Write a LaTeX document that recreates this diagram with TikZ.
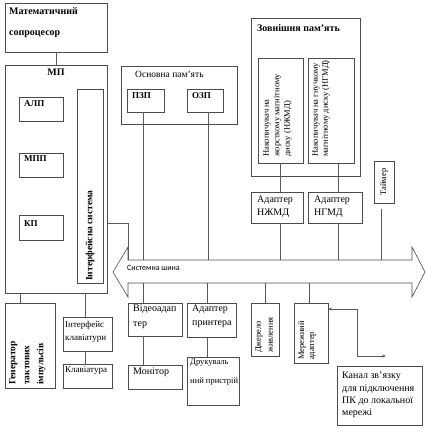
\documentclass[tikz,border=0pt]{standalone}
\usepackage{fontspec}
\setmainfont{Liberation Serif}
\newfontfamily\busfont{Carlito}
\usetikzlibrary{arrows.meta}
\tikzset{
 box/.style={draw=black!70, line width=0.6pt, rectangle, inner sep=0pt, outer sep=0pt},
 link/.style={draw=black!65, line width=0.6pt},
 txt/.style={inner sep=0pt, anchor=north west, align=left, font=\fontsize{10}{13}\selectfont},
 btxt/.style={txt, font=\fontsize{9}{11}\selectfont\bfseries},
 vtxt/.style={inner sep=0pt, rotate=90, anchor=north west, align=left, font=\fontsize{8.5}{10.5}\selectfont},
 biarrow/.style={{Stealth[length=4pt,width=3pt]}-{Stealth[length=4pt,width=3pt]}}
}
\newcommand\mybox[5]{\node[box,anchor=north west,minimum width={(#4)-(#2)},minimum height={(#5)-(#3)}] (#1) at (#2,#3) {};}
\begin{document}
\begin{tikzpicture}[x=1pt,y=-1pt]
\useasboundingbox (0,0) rectangle (427,428);
% boxes
\mybox{cop}{5}{3}{107}{52}
\mybox{mp}{5}{65}{107}{293}
\mybox{alu}{19}{97}{63}{121}
\mybox{mpp}{19}{153}{63}{177}
\mybox{kp}{19}{215}{63}{240}
\mybox{isys}{77}{89}{103}{283}
\mybox{om}{121}{66}{237}{124}
\mybox{pzp}{127}{89}{164}{112}
\mybox{ozp}{187}{89}{223}{112}
\mybox{zm}{251}{18}{360}{176}
\mybox{hdd}{258}{58}{303}{163}
\mybox{fdd}{308}{58}{354}{163}
\mybox{ahdd}{251}{192}{303}{223}
\mybox{afdd}{308}{192}{362}{223}
\mybox{tmr}{374}{161}{394}{203}
\mybox{gen}{5}{303}{55}{388}
\mybox{ikb}{63}{317}{112}{351}
\mybox{kb}{63}{364}{112}{388}
\mybox{va}{128}{303}{182}{336}
\mybox{mon}{128}{365}{182}{389}
\mybox{ap}{187}{303}{236}{337}
\mybox{prn}{187}{357}{239}{405}
\mybox{psu}{251}{303}{279}{356}
\mybox{net}{294}{303}{328}{363}
\mybox{ch}{337}{366}{422}{425}
% bus
\draw[box] (113,272) -- (128,247) -- (128,260) -- (412,260) -- (412,247) -- (425,272)
  -- (412,297) -- (412,283) -- (128,283) -- (128,297) -- cycle;
\node[inner sep=0pt, anchor=west, font=\busfont\fontsize{8}{9}\selectfont] (busl) at (127,268) {Системна шина};
% texts
\node[btxt, font=\fontsize{10}{21}\selectfont\bfseries] (tcop) at (9,7) {Математичний\\сопроцесор};
\node[btxt, anchor=north, font=\fontsize{10}{12}\selectfont\bfseries] (tmp) at (56,69) {МП};
\node[btxt] (talu) at (24,100) {АЛП};
\node[btxt] (tmpp) at (24,155) {МПП};
\node[btxt] (tkp) at (24,220) {КП};
\node[vtxt, anchor=west, font=\fontsize{9.5}{11}\selectfont\bfseries] (tisys) at (90,281) {Інтерфейсна система};
\node[txt, font=\fontsize{9.5}{11}\selectfont] (tom) at (135,71) {Основна пам’ять};
\node[btxt] (tpzp) at (132,92) {ПЗП};
\node[btxt] (tozp) at (192,92) {ОЗП};
\node[btxt, font=\fontsize{10}{12}\selectfont\bfseries] (tzm) at (257,24) {Зовнішня пам'ять};
\node[vtxt] (thdd) at (263,157) {Накопичувач на\\жорсткому магнітному\\диску (НЖМД)};
\node[vtxt, font=\fontsize{8.5}{10}\selectfont] (tfdd) at (312,157) {Накопичувач на гнучкому\\магнітному диску (НГМД)};
\node[txt] (tahdd) at (257,196) {Адаптер\\НЖМД};
\node[txt] (tafdd) at (314,196) {Адаптер\\НГМД};
\node[vtxt, anchor=center] (ttmr) at (384,182) {Таймер};
\node[vtxt, font=\fontsize{9.5}{14}\selectfont\bfseries] (tgen) at (9,385) {Генератор\\тактових\\імпульсів};
\node[txt, font=\fontsize{9}{13}\selectfont] (tikb) at (65,321) {Інтерфейс\\клавіатури};
\node[txt, font=\fontsize{9}{13}\selectfont] (tkb) at (65,366) {Клавіатура};
\node[txt, font=\fontsize{10}{15}\selectfont] (tva) at (133,305) {Відеоадап\\тер};
\node[txt, font=\fontsize{10}{14}\selectfont] (tap) at (192,305) {Адаптер\\принтера};
\node[txt] (tmon) at (133,368) {Монітор};
\node[txt, font=\fontsize{8.5}{19}\selectfont] (tprn) at (190,359) {Друкуваль\\ний пристрій};
\node[vtxt, font=\fontsize{8.5}{12}\selectfont] (tpsu) at (255,353) {Джерело\\живлення};
\node[vtxt, font=\fontsize{8.5}{10}\selectfont] (tnet) at (298,360) {Мережний\\адаптер};
\node[txt, font=\fontsize{10}{12.2}\selectfont] (tch) at (342,372) {Канал зв’язку\\для підключення\\ПК до локальної\\мережі};
% connectors
\draw[link] (cop.south) -- (cop.south |- mp.north);
\draw[link] (mp.east |- 0,223) -- (128,223) -- (128,260);
\draw[link] (pzp.south -| 143,0) -- (143,260);
\draw[link] (ozp.south -| 208,0) -- (208,260);
\draw[link] (hdd.south -| 280,0) -- (ahdd.north -| 280,0);
\draw[link] (fdd.south -| 338,0) -- (afdd.north -| 338,0);
\draw[link] (ahdd.south -| 280,0) -- (280,260);
\draw[link] (afdd.south -| 338,0) -- (338,260);
\draw[link] ([yshift=-6pt]tmr.south -| 381,0) -- (381,260);
\draw[link] (mp.south -| 20,0) -- (gen.north -| 20,0);
\draw[link] (mp.south -| 85,0) -- (ikb.north -| 85,0);
\draw[link] (ikb.south -| 85,0) -- (kb.north -| 85,0);
\draw[link] (143,283) -- (va.north -| 143,0);
\draw[link] (va.south -| 143,0) -- (mon.north -| 143,0);
\draw[link] (207,283) -- (ap.north -| 207,0);
\draw[link] (ap.south -| 207,0) -- (prn.north -| 207,0);
\draw[link] (265,283) -- (psu.north);
\draw[link] (309,283) -- (net.north -| 309,0);
\draw[link, biarrow] (net.east |- 0,309) -- (357,309) -- (357,356) -- (386,356);
\end{tikzpicture}
\end{document}
